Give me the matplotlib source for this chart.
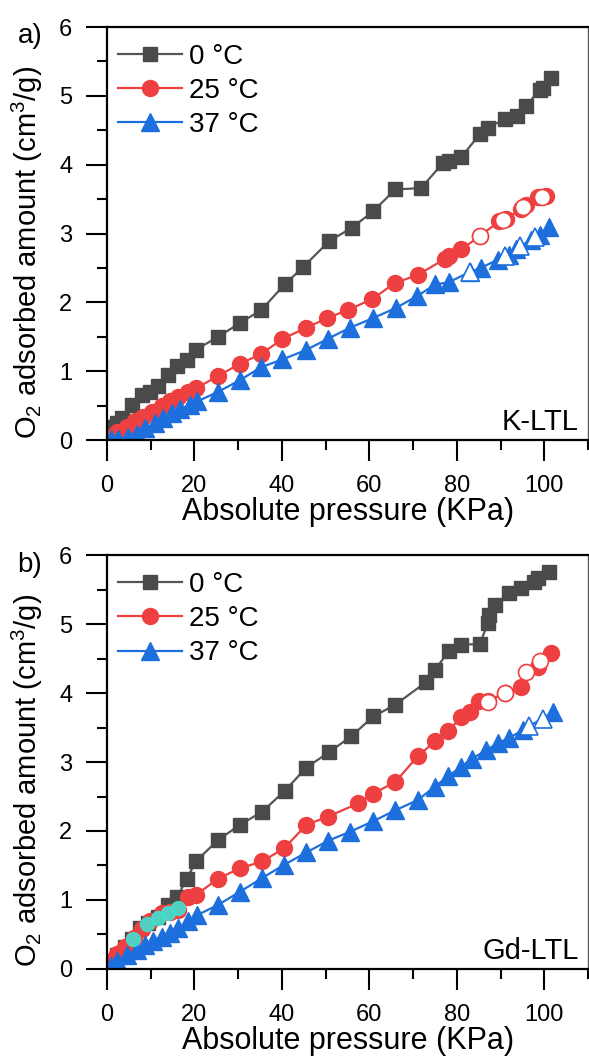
import matplotlib
matplotlib.use("Agg")
import matplotlib.pyplot as plt
from matplotlib.ticker import MultipleLocator

plt.rcParams['font.family'] = ['Liberation Sans', 'DejaVu Sans']
plt.rcParams['mathtext.fontset'] = 'custom'
plt.rcParams['mathtext.rm'] = 'Liberation Sans'
plt.rcParams['mathtext.it'] = 'Liberation Sans:italic'

# ---- data: panel a (K-LTL) ----
a_p0 = [0.5, 1.1, 2.2, 3.4, 5.6, 7.9, 9.8, 11.7, 14.0, 15.9, 18.2, 20.3, 25.4, 30.4, 35.3, 40.6, 44.8,
        50.8, 55.9, 60.8, 65.9, 71.8, 76.9, 78.3, 81.0, 85.2, 87.1, 90.9, 93.7, 95.8, 98.9, 99.6, 101.5]
a_v0 = [0.08, 0.19, 0.25, 0.32, 0.51, 0.65, 0.70, 0.78, 0.95, 1.07, 1.16, 1.31, 1.50, 1.70, 1.89, 2.26, 2.51,
        2.89, 3.08, 3.32, 3.64, 3.66, 4.03, 4.05, 4.11, 4.44, 4.54, 4.66, 4.71, 4.85, 5.09, 5.12, 5.26]
a_p25 = [0.8, 2.2, 4.5, 6.4, 8.3, 10.2, 12.5, 14.4, 16.3, 18.6, 20.3, 25.4, 30.4, 35.3, 40.1, 45.6,
         50.3, 55.1, 60.7, 65.8, 71.1, 77.2, 78.3, 81.0, 85.2, 89.7, 91.3, 94.7, 95.8, 98.5, 100.4]
a_v25 = [0.05, 0.12, 0.19, 0.27, 0.34, 0.41, 0.50, 0.56, 0.63, 0.70, 0.75, 0.93, 1.11, 1.25, 1.47, 1.63,
         1.77, 1.89, 2.05, 2.28, 2.40, 2.63, 2.68, 2.77, 2.96, 3.18, 3.21, 3.36, 3.41, 3.53, 3.54]
a_p37 = [1.0, 2.5, 4.7, 6.8, 8.7, 11.0, 12.9, 14.8, 16.8, 18.9, 20.6, 25.4, 30.4, 35.3, 40.1, 45.6,
         50.5, 55.5, 60.8, 66.1, 70.9, 75.0, 78.1, 82.9, 85.5, 89.3, 92.0, 93.5, 96.9, 98.9, 101.1]
a_v37 = [0.01, 0.02, 0.04, 0.09, 0.17, 0.24, 0.32, 0.39, 0.45, 0.51, 0.56, 0.70, 0.87, 1.06, 1.17, 1.31,
         1.47, 1.63, 1.77, 1.92, 2.09, 2.26, 2.29, 2.44, 2.50, 2.62, 2.69, 2.77, 2.91, 2.98, 3.10]
# open (hollow) points
a_p25_open = [85.2, 90.5, 95.2, 99.4]
a_v25_open = [2.96, 3.19, 3.38, 3.53]
a_p37_open = [82.9, 91.0, 94.5, 97.8]
a_v37_open = [2.44, 2.68, 2.82, 2.95]

# ---- data: panel b (Gd-LTL) ----
b_p0 = [0.8, 2.2, 4.1, 5.6, 7.5, 9.4, 11.7, 14.0, 16.1, 18.2, 20.3, 25.4, 30.4, 35.5, 40.6, 45.6, 50.7,
        55.8, 60.9, 65.9, 73.0, 74.9, 78.2, 81.0, 85.2, 87.1, 87.4, 88.8, 92.0, 94.7, 97.7, 98.5, 101.0]
b_v0 = [0.10, 0.20, 0.32, 0.44, 0.59, 0.66, 0.76, 0.93, 1.05, 1.30, 1.56, 1.87, 2.09, 2.28, 2.58, 2.92, 3.14,
        3.37, 3.66, 3.83, 4.16, 4.33, 4.61, 4.70, 4.71, 5.01, 5.13, 5.28, 5.45, 5.52, 5.61, 5.66, 5.76]
b_p25 = [0.8, 2.2, 4.2, 6.2, 8.0, 9.8, 12.5, 14.4, 16.3, 18.6, 20.3, 25.4, 30.4, 35.5, 40.5, 45.6,
         50.6, 57.4, 60.8, 65.9, 71.0, 75.0, 78.0, 81.0, 82.9, 85.0, 87.1, 90.9, 94.7, 98.5, 101.5]
b_v25 = [0.12, 0.22, 0.32, 0.45, 0.58, 0.69, 0.81, 0.83, 0.86, 1.05, 1.07, 1.31, 1.46, 1.56, 1.75, 2.09,
         2.21, 2.40, 2.54, 2.71, 3.08, 3.30, 3.45, 3.65, 3.73, 3.89, 3.88, 4.00, 4.09, 4.38, 4.58]
b_p37 = [0.8, 2.3, 4.5, 6.8, 8.7, 10.6, 12.5, 14.4, 16.3, 18.5, 20.6, 25.4, 30.4, 35.5, 40.5, 45.6,
         50.6, 55.6, 60.8, 65.9, 71.1, 74.9, 77.9, 81.0, 83.5, 86.7, 89.3, 92.0, 95.0, 101.9]
b_v37 = [0.05, 0.12, 0.20, 0.28, 0.35, 0.40, 0.47, 0.52, 0.59, 0.69, 0.78, 0.93, 1.12, 1.32, 1.51, 1.69,
         1.86, 1.99, 2.14, 2.30, 2.45, 2.64, 2.79, 2.93, 3.05, 3.17, 3.27, 3.35, 3.46, 3.72]
b_p25_open = [87.1, 90.9, 95.8, 98.9]
b_v25_open = [3.87, 4.00, 4.31, 4.46]
b_p37_open = [96.5, 99.6]
b_v37_open = [3.52, 3.63]
b_p_cyan = [6.0, 9.2, 11.7, 13.9, 16.3]
b_v_cyan = [0.44, 0.65, 0.74, 0.81, 0.89]

labels = ['0 \u00b0C', '25 \u00b0C', '37 \u00b0C']
grey, red, blue = '#4a4a4a', '#ee4040', '#1c6fdd'


def draw_panel(ax, p0, v0, p25, v25, p37, v37, p25o, v25o, p37o, v37o, name):
    ax.plot(p0, v0, '-', color='#555555', lw=1.6, marker='s', ms=10.5, mfc=grey, mec=grey, label=labels[0])
    ax.plot(p25, v25, '-', color=red, lw=1.6, marker='o', ms=11.5, mfc=red, mec=red, label=labels[1])
    ax.plot(p37, v37, '-', color=blue, lw=1.6, marker='^', ms=12.5, mfc=blue, mec=blue, label=labels[2])
    ax.plot(p25o, v25o, 'o', ms=11.5, mfc='white', mec=red, mew=1.2)
    ax.plot(p37o, v37o, '^', ms=12.5, mfc='white', mec=blue, mew=1.2)

    ax.set_xlim(0, 110)
    ax.set_ylim(0, 6)
    ax.xaxis.set_major_locator(MultipleLocator(20))
    ax.xaxis.set_minor_locator(MultipleLocator(10))
    ax.yaxis.set_major_locator(MultipleLocator(1))
    ax.yaxis.set_minor_locator(MultipleLocator(0.5))
    ax.tick_params(which='both', direction='out', top=False, right=False, width=1.5, labelsize=17)
    ax.tick_params(which='major', length=15, pad=10)
    ax.tick_params(which='minor', length=7.5)
    for s in ['left', 'bottom', 'top']:
        ax.spines[s].set_linewidth(1.6)
    ax.spines['right'].set_linewidth(1.0)
    ax.spines['right'].set_color('#555555')

    ax.set_xlabel('Absolute pressure (KPa)', fontsize=22, labelpad=0)
    ax.set_ylabel('O$_2$ adsorbed amount (cm$^3$/g)', fontsize=21)
    ax.yaxis.set_label_coords(-0.128, 0.455)
    ax.text(0.981, 0.025, name, transform=ax.transAxes, ha='right', va='baseline', fontsize=21)

    ax.legend(loc='upper left', bbox_to_anchor=(0.023, 0.96), frameon=False, fontsize=20,
              numpoints=1, handlelength=2.3, handletextpad=0.25, labelspacing=0.3,
              borderpad=0, borderaxespad=0)


fig = plt.figure(figsize=(5.89, 10.59), dpi=100)
ax1 = fig.add_axes([0.1817, 0.5845, 0.8168, 0.39])
ax2 = fig.add_axes([0.1817, 0.0850, 0.8168, 0.3909])

draw_panel(ax1, a_p0, a_v0, a_p25, a_v25, a_p37, a_v37,
           a_p25_open, a_v25_open, a_p37_open, a_v37_open, 'K-LTL')
draw_panel(ax2, b_p0, b_v0, b_p25, b_v25, b_p37, b_v37,
           b_p25_open, b_v25_open, b_p37_open, b_v37_open, 'Gd-LTL')
ax2.plot(b_p_cyan, b_v_cyan, 'o', ms=10, mfc='#40e0d0', mec='#40e0d0', alpha=0.9)

fig.text(30 / 589, 1 - 36 / 1059, 'a)', fontsize=20, ha='center', va='center')
fig.text(30 / 589, 1 - 565 / 1059, 'b)', fontsize=20, ha='center', va='center')

fig.savefig('out.png', dpi=100)
